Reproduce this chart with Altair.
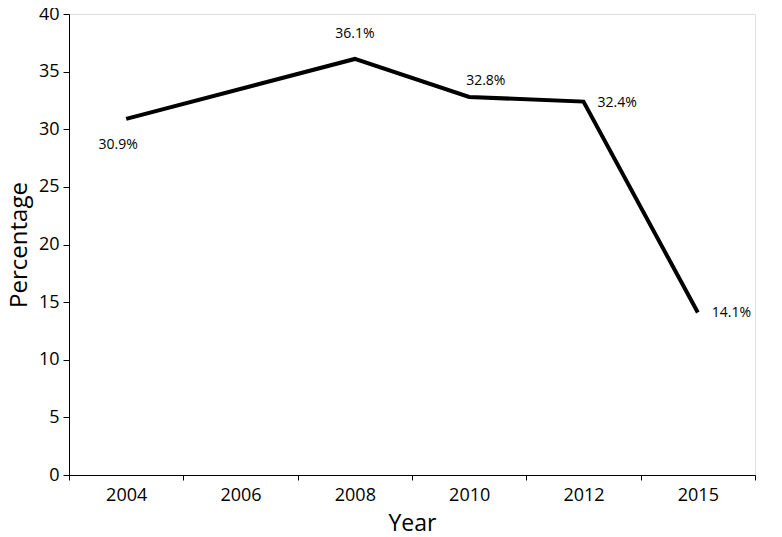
import altair as alt
import pandas as pd

years_all = ["2004", "2006", "2008", "2010", "2012", "2015"]
years = ["2004", "2008", "2010", "2012", "2015"]
values = [30.9, 36.1, 32.8, 32.4, 14.1]
labels = ["30.9%", "36.1%", "32.8%", "32.4%", "14.1%"]

df = pd.DataFrame({"Year": years, "Percentage": values, "label": labels})

FONT = "Open Sans"

x = alt.X("Year:O",
          scale=alt.Scale(type="band", domain=years_all, paddingInner=0, paddingOuter=0),
          bandPosition=0.5,
          axis=alt.Axis(title="Year", labelAngle=0, tickBand="extent", tickSize=5,
                        labelPadding=6, titlePadding=8, labelFontSize=18, titleFontSize=23,
                        titleFontWeight="normal", domainColor="#000", tickColor="#000",
                        labelColor="#000", titleColor="#000", labelFont=FONT, titleFont=FONT,
                        grid=False))
y = alt.Y("Percentage:Q",
          scale=alt.Scale(domain=[0, 40], nice=False, zero=True),
          axis=alt.Axis(title="Percentage", values=list(range(0, 41, 5)), tickSize=6,
                        labelPadding=4, titlePadding=7, labelFontSize=18, titleFontSize=24,
                        titleFontWeight="normal", domainColor="#000", tickColor="#000",
                        labelColor="#000", titleColor="#000", labelFont=FONT, titleFont=FONT,
                        grid=False))

base = alt.Chart(df)
line = base.mark_line(color="#000", strokeWidth=4).encode(x=x, y=y)

offsets = {
    "2004": dict(dx=-8, dy=26, align="center"),
    "2008": dict(dx=0, dy=-25, align="center"),
    "2010": dict(dx=-3, dy=-16, align="left"),
    "2012": dict(dx=14, dy=1, align="left"),
    "2015": dict(dx=14, dy=1, align="left"),
}
texts = []
for yr, opt in offsets.items():
    texts.append(
        base.transform_filter(alt.datum.Year == yr)
        .mark_text(font=FONT, fontSize=14, color="#000", baseline="middle", **opt)
        .encode(x=x, y=y, text="label:N")
    )

chart = alt.layer(line, *texts).properties(
    width=686, height=461,
    autosize=alt.AutoSizeParams(type="none"),
    padding={"left": 61, "top": 6, "right": 10, "bottom": 60},
).configure_view(stroke=None).configure(background="white")

chart.save("out.html", embed_options={"renderer": "svg", "actions": False})
